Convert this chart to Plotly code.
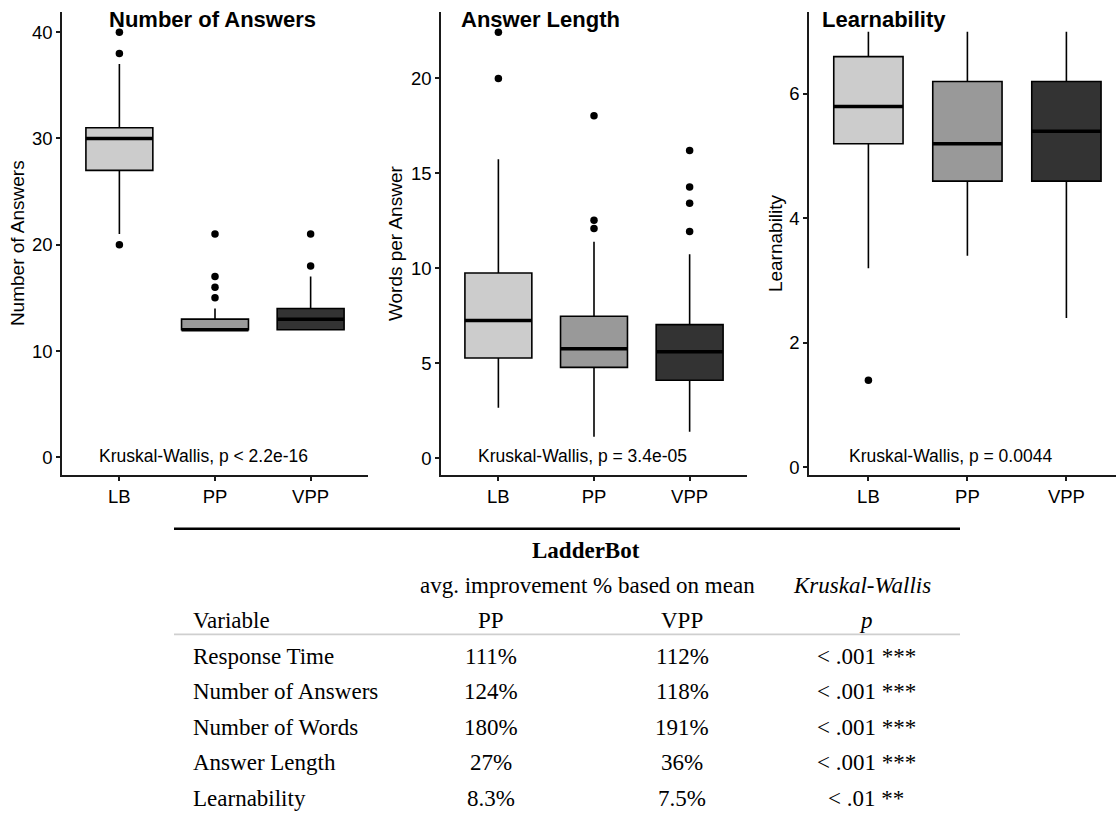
import plotly.graph_objects as go

W, H = 1116, 815

# ---------------- data ----------------
groups = ["LB", "PP", "VPP"]
fills = ["#cccccc", "#999999", "#333333"]

# Panel 1: Number of Answers
na_q1 = [27, 12, 12]
na_med = [30, 12, 13]
na_q3 = [31, 13, 14]
na_lo = [21, 12, 12]
na_hi = [37, 14, 17]
na_out = [[40, 38, 20], [21, 17, 16, 15], [21, 18]]

# Panel 2: Answer Length (words per answer)
al_q1 = [5.28, 4.79, 4.11]
al_med = [7.25, 5.77, 5.61]
al_q3 = [9.76, 7.48, 7.04]
al_lo = [2.66, 1.14, 1.40]
al_hi = [15.74, 11.40, 10.75]
al_out = [[22.43, 20.0], [18.03, 12.54, 12.10], [16.21, 14.28, 13.43, 11.94]]

# Panel 3: Learnability
le_q1 = [5.2, 4.6, 4.6]
le_med = [5.8, 5.2, 5.4]
le_q3 = [6.6, 6.2, 6.2]
le_lo = [3.2, 3.4, 2.4]
le_hi = [7.0, 7.0, 7.0]
le_out = [[1.4], [], []]

panel_titles = ["Number of Answers", "Answer Length", "Learnability"]
y_titles = ["Number of Answers", "Words per Answer", "Learnability"]
kw_labels = ["Kruskal-Wallis, p < 2.2e-16", "Kruskal-Wallis, p = 3.4e-05",
             "Kruskal-Wallis, p = 0.0044"]
y_ticks = [[0, 10, 20, 30, 40], [0, 5, 10, 15, 20], [0, 2, 4, 6]]

# Table
tbl_header = "LadderBot"
tbl_sub = "avg. improvement % based on mean"
tbl_kw = "Kruskal-Wallis"
tbl_cols = ["Variable", "PP", "VPP", "p"]
variables = ["Response Time", "Number of Answers", "Number of Words",
             "Answer Length", "Learnability"]
pp_improve = ["111%", "124%", "180%", "27%", "8.3%"]
vpp_improve = ["112%", "118%", "191%", "36%", "7.5%"]
kw_p = ["< .001 ***", "< .001 ***", "< .001 ***", "< .001 ***", "< .01 **"]

# ---------------- layout helpers ----------------
def px(x):
    return x / W

def py(y):
    return 1 - y / H

SANS = "Liberation Sans, Arial, Helvetica, sans-serif"
SERIF = "Liberation Serif, Times New Roman, serif"
BOXW = 0.7

panels = [
    dict(q1=na_q1, med=na_med, q3=na_q3, lo=na_lo, hi=na_hi, out=na_out,
         xdom=(62, 368), xr=(-0.6, 2.6), yr=(-1.66, 41.9)),
    dict(q1=al_q1, med=al_med, q3=al_q3, lo=al_lo, hi=al_hi, out=al_out,
         xdom=(441, 747), xr=(-0.6, 2.6), yr=(-0.876, 23.5)),
    dict(q1=le_q1, med=le_med, q3=le_q3, lo=le_lo, hi=le_hi, out=le_out,
         xdom=(809, 1116), xr=(-0.6, 2.501), yr=(-0.123, 7.318)),
]

fig = go.Figure()
layout = dict(
    width=W, height=H, margin=dict(l=0, r=0, t=0, b=0),
    paper_bgcolor="white", plot_bgcolor="white", showlegend=False,
    boxmode="overlay", font=dict(family=SANS, color="black"),
)

ydom = [py(476.7), py(12)]
for p_i, pan in enumerate(panels):
    sfx = "" if p_i == 0 else str(p_i + 1)
    xa, ya = "x" + sfx, "y" + sfx
    for i in range(3):
        fig.add_trace(go.Box(
            x=[i], q1=[pan["q1"][i]], median=[pan["med"][i]], q3=[pan["q3"][i]],
            lowerfence=[pan["lo"][i]], upperfence=[pan["hi"][i]],
            width=BOXW, fillcolor=fills[i], whiskerwidth=0, boxpoints=False,
            line=dict(color="black", width=1.6), xaxis=xa, yaxis=ya,
            hoverinfo="skip"))
        fig.add_trace(go.Scatter(
            x=[i - BOXW / 2, i + BOXW / 2], y=[pan["med"][i], pan["med"][i]],
            mode="lines", line=dict(color="black", width=3.5),
            xaxis=xa, yaxis=ya, hoverinfo="skip"))
        if pan["out"][i]:
            fig.add_trace(go.Scatter(
                x=[i] * len(pan["out"][i]), y=pan["out"][i], mode="markers",
                marker=dict(color="black", size=7.5), xaxis=xa, yaxis=ya,
                hoverinfo="skip"))
    layout["xaxis" + sfx] = dict(
        domain=[px(pan["xdom"][0]), min(1.0, px(pan["xdom"][1]))],
        range=list(pan["xr"]), anchor=ya, tickvals=[0, 1, 2], ticktext=groups,
        showline=True, linecolor="#1a1a1a", linewidth=1.6, ticks="outside",
        ticklen=4, tickwidth=1.6, tickcolor="#1a1a1a", showgrid=False,
        zeroline=False, tickfont=dict(size=18.5, family=SANS, color="black"),
        fixedrange=True)
    layout["yaxis" + sfx] = dict(
        domain=ydom, range=list(pan["yr"]), anchor=xa, tickvals=y_ticks[p_i],
        showline=True, linecolor="#1a1a1a", linewidth=1.6, ticks="outside",
        ticklen=4, tickwidth=1.6, tickcolor="#1a1a1a", showgrid=False,
        zeroline=False, tickfont=dict(size=18.5, family=SANS, color="black"),
        fixedrange=True)

annotations = []
title_x = [107, 459, 820]
ytitle_x = [17, 395, 775]
kw_x = [97, 476, 847]
for p_i in range(3):
    annotations.append(dict(
        text="<b>" + panel_titles[p_i] + "</b>", x=px(title_x[p_i]), y=py(20),
        xref="paper", yref="paper", xanchor="left", yanchor="middle",
        showarrow=False, font=dict(size=22, family=SANS, color="black")))
    annotations.append(dict(
        text=y_titles[p_i], x=px(ytitle_x[p_i]), y=py(244), textangle=-90,
        xref="paper", yref="paper", xanchor="center", yanchor="middle",
        showarrow=False, font=dict(size=19, family=SANS, color="black")))
    annotations.append(dict(
        text=kw_labels[p_i], x=px(kw_x[p_i]), y=py(457.5),
        xref="paper", yref="paper", xanchor="left", yanchor="middle",
        showarrow=False, font=dict(size=17.5, family=SANS, color="black")))

# ---------------- table ----------------
TF = 23
col_x = [190.7, 491, 682, 866]
row_y = [659, 694.5, 730, 765.5, 801]


def tann(text, x, y, anchor="center", size=TF):
    annotations.append(dict(
        text=text, x=px(x), y=py(y), xref="paper", yref="paper",
        xanchor=anchor, yanchor="middle", showarrow=False,
        font=dict(size=size, family=SERIF, color="black")))


tann("<b>" + tbl_header + "</b>", 586, 553)
tann(tbl_sub, 587, 588)
tann("<i>" + tbl_kw + "</i>", 862, 588)
tann(tbl_cols[0], col_x[0], 623, anchor="left")
tann(tbl_cols[1], col_x[1], 623)
tann(tbl_cols[2], col_x[2], 623)
tann("<i>" + tbl_cols[3] + "</i>", col_x[3], 623)
for r in range(len(variables)):
    tann(variables[r], col_x[0], row_y[r], anchor="left")
    tann(pp_improve[r], col_x[1], row_y[r])
    tann(vpp_improve[r], col_x[2], row_y[r])
    tann(kw_p[r], col_x[3], row_y[r])

shapes = [
    dict(type="line", xref="paper", yref="paper", x0=px(174), x1=px(960),
         y0=py(530.7), y1=py(530.7), line=dict(color="black", width=2.5)),
    dict(type="line", xref="paper", yref="paper", x0=px(174), x1=px(960),
         y0=py(636.7), y1=py(636.7), line=dict(color="#cfcfcf", width=1.8)),
]

layout["annotations"] = annotations
layout["shapes"] = shapes
fig.update_layout(**layout)
fig.write_html("out.html")
